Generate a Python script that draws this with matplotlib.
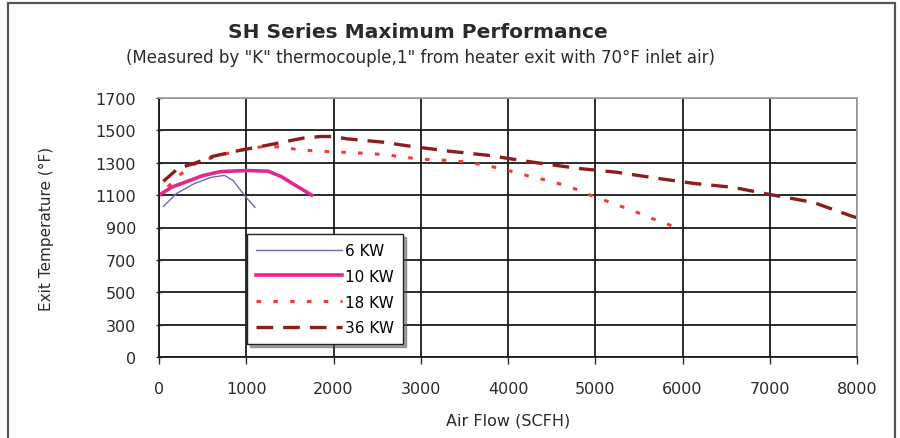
"""SH Series maximum performance chart."""

import matplotlib

matplotlib.use("Agg")
import matplotlib.pyplot as plt
from matplotlib.patches import Rectangle

plt.rcParams["font.family"] = ["DejaVu Sans"]

# --- data ---
kw6_flow = [50, 200, 400, 600, 750, 850, 950, 1000, 1100]
kw6_temp = [1030, 1110, 1170, 1210, 1222, 1190, 1120, 1085, 1025]

kw10_flow = [0, 150, 300, 500, 700, 1000, 1250, 1400, 1550, 1750]
kw10_temp = [1100, 1150, 1180, 1220, 1245, 1252, 1248, 1215, 1165, 1100]

kw18_flow = [100, 250, 400, 600, 800, 1000, 1200, 1400, 1600, 1900, 2300, 2600,
             2800, 3000, 3300, 3550, 3800, 4000, 4250, 4500, 4750, 5000, 5200,
             5450, 5650, 5900, 6000]
kw18_temp = [1150, 1230, 1290, 1330, 1360, 1385, 1400, 1398, 1380, 1370, 1360,
             1350, 1335, 1322, 1315, 1303, 1278, 1253, 1216, 1185, 1142, 1088,
             1050, 1000, 956, 906, 880]

kw36_flow = [50, 220, 400, 620, 930, 1240, 1470, 1650, 1850, 2000, 2150, 2570,
             2880, 3335, 3770, 4290, 4790, 5250, 5710, 6120, 6580, 7000, 7500,
             7920, 8000]
kw36_temp = [1185, 1266, 1295, 1340, 1377, 1408, 1433, 1452, 1462, 1462, 1448,
             1427, 1402, 1371, 1346, 1303, 1266, 1241, 1204, 1173, 1148, 1104,
             1055, 974, 960]

series_labels = ["6 KW", "10 KW", "18 KW", "36 KW"]

x_ticks = [0, 1000, 2000, 3000, 4000, 5000, 6000, 7000, 8000]
y_ticks = [100, 300, 500, 700, 900, 1100, 1300, 1500, 1700]
y_tick_labels = ["0", "300", "500", "700", "900", "1100", "1300", "1500", "1700"]

text_color = "#2a2a2a"

fig = plt.figure(figsize=(9, 4.39), dpi=100)
ax = fig.add_axes([159 / 900, 1 - 358 / 439, 698 / 900, 259 / 439])

ax.plot(kw6_flow, kw6_temp, color="#6a6aae", lw=1.0, label=series_labels[0])
ax.plot(kw10_flow, kw10_temp, color="#e2278f", lw=2.6, label=series_labels[1])
ax.plot(kw18_flow, kw18_temp, color="#f33a3a", lw=2.2, dashes=(1.5, 4),
        label=series_labels[2])
ax.plot(kw36_flow, kw36_temp, color="#8b1d1d", lw=2.4, dashes=(5, 3),
        label=series_labels[3])

ax.set_xlim(0, 8000)
ax.set_ylim(100, 1700)
ax.set_xticks(x_ticks)
ax.set_yticks(y_ticks)
ax.set_yticklabels(y_tick_labels)
ax.tick_params(axis="both", labelsize=11.5, colors=text_color, length=5, width=1)
ax.tick_params(axis="y", direction="inout", pad=14)
ax.tick_params(axis="x", direction="out", pad=12)

ax.grid(True, color="#1a1a1a", lw=1.3)
ax.set_axisbelow(True)
for side in ["left", "bottom"]:
    ax.spines[side].set_color("#1a1a1a")
    ax.spines[side].set_linewidth(1.3)
for side in ["top", "right"]:
    ax.spines[side].set_color("#a0a0a0")
    ax.spines[side].set_linewidth(1.3)

ax.set_xlabel("Air Flow (SCFH)", fontsize=11.5, color=text_color, labelpad=12)
ax.set_ylabel("Exit Temperature (°F)", fontsize=11, color=text_color, labelpad=30)

leg = ax.legend(loc="upper left", bbox_to_anchor=(0.126, 0.475), borderaxespad=0,
                fontsize=11, frameon=True, fancybox=False, shadow=True,
                handlelength=5.6, handletextpad=0.2, labelspacing=0.7,
                borderpad=0.6)
leg.get_frame().set_edgecolor("#222222")
leg.get_frame().set_linewidth(1.0)

fig.text(418 / 900, 1 - 33 / 439, "SH Series Maximum Performance",
         ha="center", va="center", fontsize=14.5, fontweight="bold", color=text_color)
fig.text(421 / 900, 1 - 58 / 439,
         "(Measured by \"K\" thermocouple,1\" from heater exit with 70°F inlet air)",
         ha="center", va="center", fontsize=12, color=text_color)

fig.add_artist(Rectangle((8 / 900, -0.02), 887 / 900, 1.02 - 4 / 439,
                         transform=fig.transFigure, fill=False,
                         edgecolor="#555555", lw=1.6))

fig.savefig("out.png", dpi=100)
